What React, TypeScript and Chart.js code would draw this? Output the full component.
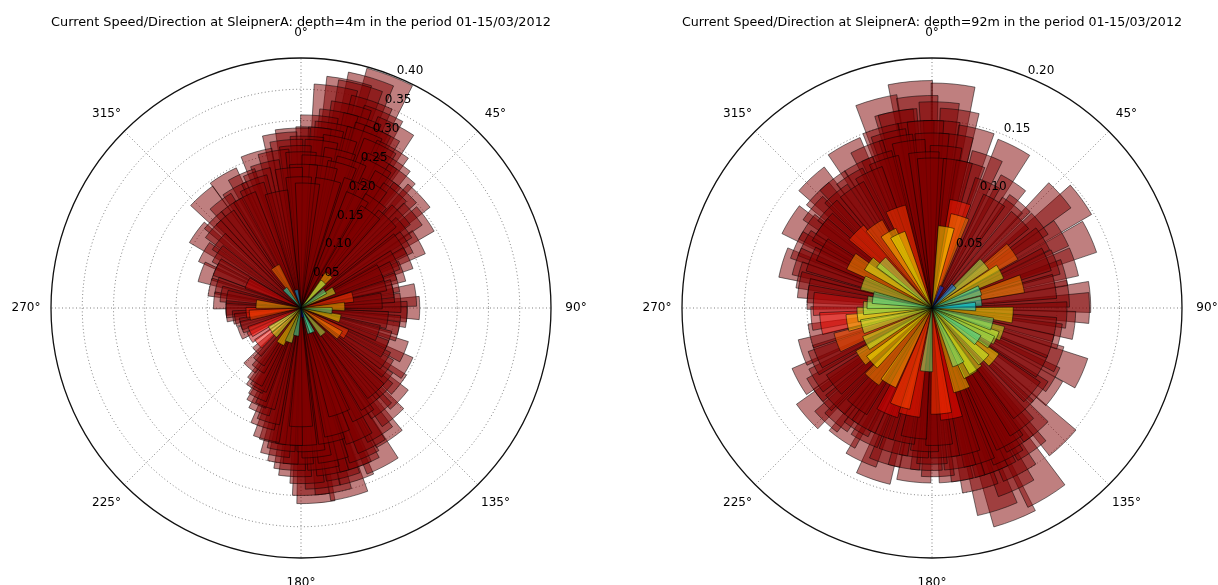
import React, { useEffect, useRef } from 'react';
import { Chart, registerables } from 'chart.js';

Chart.register(...registerables);

// Compass labels for the angular axis (clockwise from north)
const angleLabels = ['0°', '45°', '90°', '135°', '180°', '225°', '270°', '315°'];

const leftTitle = 'Current Speed/Direction at SleipnerA: depth=4m in the period 01-15/03/2012';
const rightTitle = 'Current Speed/Direction at SleipnerA: depth=92m in the period 01-15/03/2012';

const leftTicks = [0.05, 0.1, 0.15, 0.2, 0.25, 0.3, 0.35, 0.4];
const rightTicks = [0.05, 0.1, 0.15, 0.2];
const leftMax = 0.4;
const rightMax = 0.2;

// Angular width of every bar, degrees
const barWidthDeg = 11.25;
// Speed that maps to the top of the jet colour scale
const colorNorm = 0.1;

// Depth 4 m: current direction (deg, clockwise from north) and speed (m/s)
const leftDirections = [
  21, 17, 12, 9, 15, 19, 23, 14, 27.5, 11, 5.5, 25, 30, 20, 8, 357.4, 353, 2, 33, 37,
  28, 344, 350, 0, 6, 329.6, 318.5, 336, 46.4, 42, 54.4, 50, 60.8, 306, 323, 340, 355, 16, 31, 24,
  3, 12, 58, 65, 44, 36, 348, 333, 312, 300, 290, 70, 83.5, 75, 78, 66, 296, 283, 275, 280,
  268, 262, 90, 95, 87, 103.7, 98, 108, 119.5, 113, 125, 133, 128, 140, 146, 152.7, 158, 165.6, 162, 170,
  175.6, 178, 172, 182, 186.7, 190, 168, 156, 194.8, 200, 198, 205, 208, 212, 220.5, 215, 247.6, 259.6, 252, 240,
  230, 185, 176, 164, 150, 144, 138, 160, 180, 40, 41, 55, 78, 88, 95, 125, 120, 140, 155, 170,
  190, 210, 235, 245, 275, 265, 320, 328, 295, 200, 225, 62, 105, 262, 345, 160,
  355, 358, 4, 7, 10, 13, 18, 22, 26, 29, 34, 39, 1, 346, 342, 338, 331, 326, 320, 315,
  309, 303, 47, 52, 57, 63, 68, 73, 81, 85, 14, 19, 9, 359, 27, 35,
  142, 148, 153, 157, 161, 166, 169, 173, 177, 181, 184, 188, 192, 196, 202, 206, 210, 135, 131, 122,
  116, 110, 100, 92, 179, 167, 174, 270, 265, 285, 278, 293, 255, 218, 225,
];
const leftSpeeds = [
  0.398, 0.385, 0.373, 0.359, 0.37, 0.35, 0.34, 0.335, 0.33, 0.32, 0.309, 0.31, 0.295, 0.3, 0.29, 0.288, 0.282, 0.275, 0.28, 0.27,
  0.26, 0.26, 0.255, 0.25, 0.245, 0.247, 0.241, 0.235, 0.262, 0.25, 0.246, 0.235, 0.217, 0.207, 0.215, 0.22, 0.225, 0.24, 0.23, 0.22,
  0.2, 0.21, 0.2, 0.19, 0.2, 0.19, 0.19, 0.2, 0.19, 0.18, 0.17, 0.173, 0.185, 0.16, 0.15, 0.14, 0.15, 0.15, 0.14, 0.13,
  0.12, 0.11, 0.19, 0.17, 0.16, 0.16, 0.14, 0.13, 0.196, 0.18, 0.17, 0.216, 0.2, 0.23, 0.254, 0.286, 0.27, 0.312, 0.29, 0.3,
  0.313, 0.281, 0.26, 0.27, 0.25, 0.24, 0.25, 0.23, 0.218, 0.168, 0.2, 0.17, 0.146, 0.14, 0.127, 0.12, 0.106, 0.107, 0.1, 0.095,
  0.09, 0.22, 0.23, 0.21, 0.2, 0.19, 0.18, 0.18, 0.19, 0.07, 0.055, 0.047, 0.085, 0.07, 0.05, 0.076, 0.084, 0.055, 0.043, 0.015,
  0.045, 0.066, 0.06, 0.09, 0.072, 0.088, 0.04, 0.078, 0.095, 0.058, 0.061, 0.06, 0.065, 0.083, 0.03, 0.043,
  0.27, 0.26, 0.29, 0.27, 0.3, 0.28, 0.32, 0.31, 0.29, 0.27, 0.25, 0.24, 0.23, 0.24, 0.23, 0.21, 0.22, 0.2, 0.19, 0.2,
  0.17, 0.16, 0.22, 0.21, 0.19, 0.17, 0.16, 0.14, 0.15, 0.13, 0.26, 0.25, 0.23, 0.21, 0.2, 0.21,
  0.21, 0.24, 0.25, 0.26, 0.27, 0.28, 0.27, 0.29, 0.3, 0.25, 0.26, 0.23, 0.22, 0.19, 0.18, 0.16, 0.15, 0.19, 0.18, 0.16,
  0.15, 0.15, 0.16, 0.17, 0.22, 0.22, 0.24, 0.12, 0.12, 0.14, 0.12, 0.15, 0.1, 0.11, 0.1,
];

// Depth 92 m: current direction (deg, clockwise from north) and speed (m/s)
const rightDirections = [
  287, 280, 302, 317, 331.5, 345, 354.5, 5.4, 14, 27, 48.6, 54, 65.7, 69.6, 86, 90, 93, 102.6, 113.6, 120.7,
  135.9, 148.7, 158.6, 162, 186, 199, 214.4, 229, 241, 251, 265, 295, 310, 322, 338, 350, 358, 2, 8, 352,
  342, 326, 305, 292, 275, 20, 33, 40, 60, 75, 80, 97, 108, 125, 130, 140, 145, 152, 155, 165,
  170, 175, 180, 190, 195, 205, 210, 220, 225, 235, 245, 257, 178, 168, 183, 160, 138, 346, 0, 357,
  335, 313, 298, 10, 24, 45, 150, 188, 202, 217, 232, 10, 17, 15, 25, 45, 70, 50, 62, 55,
  75, 115, 95, 135, 145, 185, 198, 235, 265, 260, 250, 290, 305, 300, 315, 325, 340, 210, 220, 228,
  242, 255, 270, 105, 110, 120, 125, 150, 155, 160, 130, 192, 203, 175, 170, 82, 88, 280, 275, 312,
  330, 335,
  0, 5, 15, 30, 38, 52, 58, 67, 72, 84, 100, 112, 118, 128, 143, 147, 153, 157, 163, 167,
  172, 177, 182, 187, 193, 197, 207, 212, 218, 223, 230, 238, 247, 262, 272, 278, 284, 289, 297, 303,
  308, 315, 320, 328, 333, 340, 344, 348, 355, 3, 8, 356, 349,
];
const rightSpeeds = [
  0.125, 0.108, 0.134, 0.142, 0.148, 0.173, 0.182, 0.18, 0.148, 0.145, 0.137, 0.148, 0.139, 0.106, 0.127, 0.126, 0.108, 0.105, 0.131, 0.113,
  0.151, 0.177, 0.182, 0.17, 0.14, 0.145, 0.128, 0.133, 0.122, 0.11, 0.097, 0.12, 0.125, 0.13, 0.14, 0.16, 0.15, 0.165, 0.16, 0.135,
  0.125, 0.115, 0.11, 0.105, 0.1, 0.13, 0.12, 0.11, 0.12, 0.11, 0.1, 0.115, 0.1, 0.12, 0.105, 0.13, 0.14, 0.15, 0.16, 0.15,
  0.13, 0.12, 0.125, 0.13, 0.12, 0.135, 0.11, 0.12, 0.11, 0.115, 0.105, 0.1, 0.135, 0.14, 0.115, 0.14, 0.11, 0.145, 0.14, 0.125,
  0.12, 0.115, 0.1, 0.12, 0.11, 0.1, 0.125, 0.105, 0.11, 0.1, 0.1, 0.066, 0.077, 0.088, 0.019, 0.025, 0.041, 0.055, 0.062, 0.079,
  0.075, 0.057, 0.065, 0.059, 0.061, 0.051, 0.083, 0.07, 0.06, 0.069, 0.081, 0.059, 0.062, 0.075, 0.086, 0.081, 0.085, 0.07, 0.075, 0.065,
  0.06, 0.058, 0.055, 0.05, 0.06, 0.055, 0.045, 0.062, 0.05, 0.07, 0.065, 0.088, 0.092, 0.085, 0.09, 0.04, 0.035, 0.048, 0.052, 0.055,
  0.07, 0.065,
  0.12, 0.13, 0.12, 0.1, 0.105, 0.11, 0.105, 0.1, 0.12, 0.11, 0.1, 0.11, 0.1, 0.11, 0.12, 0.13, 0.135, 0.14, 0.13, 0.12,
  0.14, 0.11, 0.13, 0.12, 0.11, 0.13, 0.12, 0.115, 0.11, 0.125, 0.115, 0.11, 0.1, 0.09, 0.095, 0.1, 0.11, 0.115, 0.115, 0.12,
  0.11, 0.13, 0.12, 0.125, 0.13, 0.13, 0.15, 0.14, 0.15, 0.15, 0.14, 0.17, 0.16,
];

// matplotlib "jet" colour map segments
type Segment = [number, number][];
const jetRed: Segment = [[0, 0], [0.35, 0], [0.66, 1], [0.89, 1], [1, 0.5]];
const jetGreen: Segment = [[0, 0], [0.125, 0], [0.375, 1], [0.64, 1], [0.91, 0], [1, 0]];
const jetBlue: Segment = [[0, 0.5], [0.11, 1], [0.34, 1], [0.65, 0], [1, 0]];

function segmentValue(seg: Segment, x: number): number {
  for (let i = 1; i < seg.length; i++) {
    if (x <= seg[i][0]) {
      const [x0, y0] = seg[i - 1];
      const [x1, y1] = seg[i];
      return y0 + ((y1 - y0) * (x - x0)) / (x1 - x0);
    }
  }
  return seg[seg.length - 1][1];
}

function jet(v: number, alpha: number): string {
  const x = Math.min(Math.max(v, 0), 1);
  const r = Math.round(255 * segmentValue(jetRed, x));
  const g = Math.round(255 * segmentValue(jetGreen, x));
  const b = Math.round(255 * segmentValue(jetBlue, x));
  return `rgba(${r},${g},${b},${alpha})`;
}

// Each bar is its own dataset: a zero-radius spacer rotates to the bar's start
// angle, then the visible arc spans barWidthDeg. Slow bars are drawn on top.
function buildDatasets(directions: number[], speeds: number[]) {
  const order = directions.map((_, i) => i).sort((a, b) => speeds[a] - speeds[b]);
  return order.map((i) => {
    const start = (((directions[i] - barWidthDeg / 2) % 360) + 360) % 360;
    const fill = jet(speeds[i] / colorNorm, 0.5);
    return {
      data: [0, speeds[i]],
      angle: (c: any) => (c.dataIndex === 0 ? Math.max(start, 0.001) : barWidthDeg),
      backgroundColor: (c: any) => (c.dataIndex === 0 ? 'rgba(0,0,0,0)' : fill),
      borderColor: 'rgba(0,0,0,0.5)',
      borderWidth: (c: any) => (c.dataIndex === 0 ? 0 : 1),
      borderAlign: 'center',
    };
  });
}

const FONT = '"DejaVu Sans", "Liberation Sans", sans-serif';

function labelsPlugin(ticks: number[]) {
  return {
    id: 'polarLabels',
    afterDraw(chart: any) {
      const scale = chart.scales.r;
      const ctx = chart.ctx as CanvasRenderingContext2D;
      ctx.save();
      ctx.font = `12px ${FONT}`;
      ctx.fillStyle = '#000';
      ctx.textAlign = 'center';
      ctx.textBaseline = 'middle';
      angleLabels.forEach((label, i) => {
        const p = scale.getPointPosition(i, scale.drawingArea * 1.1);
        ctx.fillText(label, p.x, p.y);
      });
      ctx.textAlign = 'left';
      ctx.textBaseline = 'bottom';
      ticks.forEach((v) => {
        const p = scale.getPointPosition(0.5, scale.getDistanceFromCenterForValue(v));
        ctx.fillText(v.toFixed(2), p.x, p.y);
      });
      ctx.restore();
    },
  };
}

type PanelProps = {
  left: number;
  padLeft: number;
  padRight: number;
  title: string;
  directions: number[];
  speeds: number[];
  max: number;
  ticks: number[];
};

function RosePanel({ left, padLeft, padRight, title, directions, speeds, max, ticks }: PanelProps) {
  const ref = useRef<HTMLCanvasElement>(null);

  useEffect(() => {
    const isOuter = (c: any) => c.tick && Math.abs(c.tick.value - max) < 1e-9;
    const chart = new Chart(ref.current as HTMLCanvasElement, {
      type: 'polarArea',
      data: { labels: angleLabels, datasets: buildDatasets(directions, speeds) as any },
      options: {
        responsive: false,
        animation: false,
        events: [],
        layout: { padding: { left: padLeft, right: padRight, top: 0, bottom: 27 } },
        plugins: {
          legend: { display: false },
          tooltip: { enabled: false },
          title: {
            display: true,
            text: title,
            color: '#000',
            font: { family: FONT, size: 13, weight: 'normal', lineHeight: 1.2 },
            padding: { top: 15.2, bottom: 27.2 },
          },
        },
        scales: {
          r: {
            min: 0,
            max,
            startAngle: 0,
            z: 1,
            ticks: { display: false, stepSize: 0.05 },
            grid: {
              circular: true,
              color: (c: any) => (isOuter(c) ? '#111' : 'rgba(0,0,0,0.5)'),
              lineWidth: (c: any) => (isOuter(c) ? 1.3 : 1),
            },
            border: { dash: (c: any) => (isOuter(c) ? [] : [1, 2.5]) },
            angleLines: { display: true, color: 'rgba(0,0,0,0.5)', lineWidth: 1, borderDash: [1, 2.5] },
            pointLabels: { display: false },
          },
        },
      } as any,
      plugins: [labelsPlugin(ticks)],
    });
    return () => chart.destroy();
  }, []);

  return (
    <canvas
      ref={ref}
      width={609}
      height={585}
      style={{ position: 'absolute', left, top: 0, width: 609, height: 585 }}
    />
  );
}

export default function App() {
  return (
    <div style={{ position: 'absolute', left: 0, top: 0, width: 1218, height: 585, background: '#fff' }}>
      <RosePanel
        left={0}
        padLeft={51}
        padRight={58}
        title={leftTitle}
        directions={leftDirections}
        speeds={leftSpeeds}
        max={leftMax}
        ticks={leftTicks}
      />
      <RosePanel
        left={609}
        padLeft={73}
        padRight={36}
        title={rightTitle}
        directions={rightDirections}
        speeds={rightSpeeds}
        max={rightMax}
        ticks={rightTicks}
      />
    </div>
  );
}
